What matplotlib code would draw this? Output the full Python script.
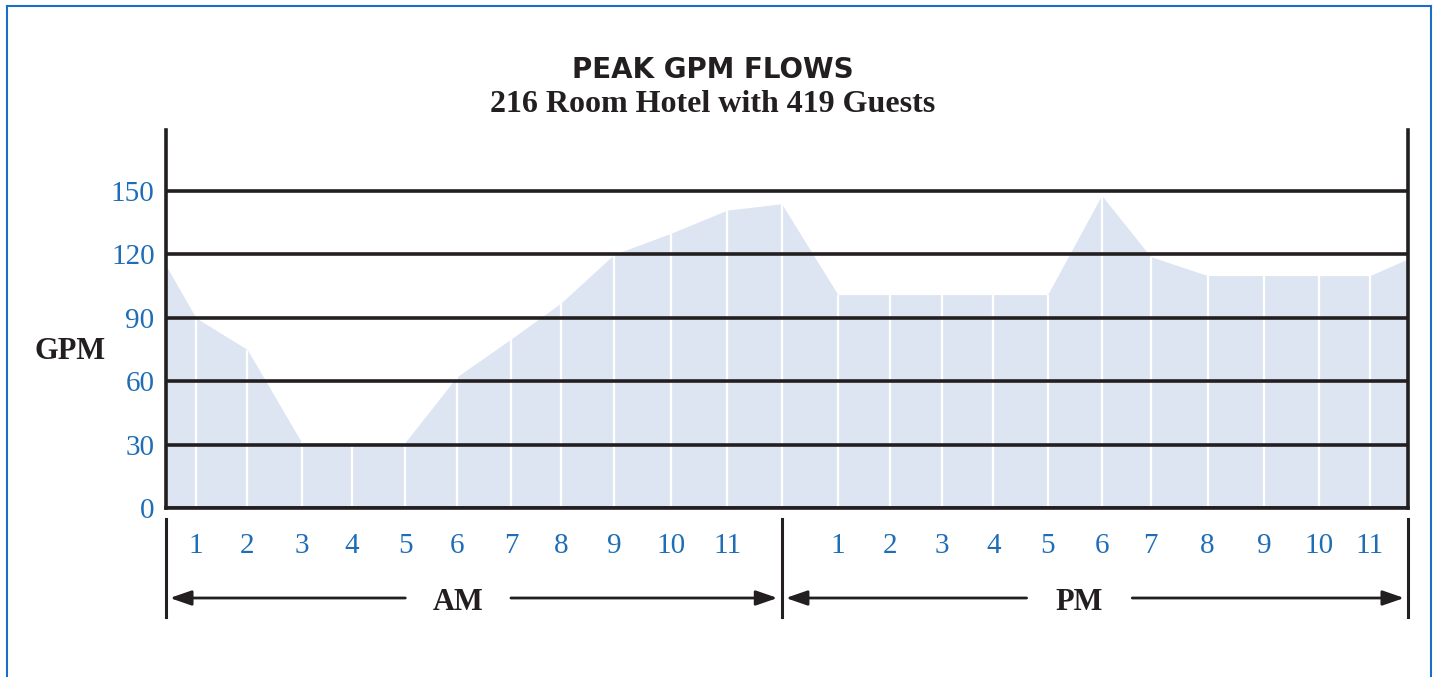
import matplotlib
matplotlib.use("Agg")
import matplotlib.pyplot as plt
from matplotlib.lines import Line2D

# ---- data ----
# hour positions (in hours from midnight) as drawn on the reference (the spacing is slightly irregular)
hour_pos = [0.0, 0.585, 1.576, 2.627, 3.598, 4.622, 5.620, 6.669, 7.634, 8.658, 9.753, 10.846,
            11.896, 12.984, 13.988, 14.992, 15.983, 17.033, 18.077, 19.023, 20.124, 21.217,
            22.267, 23.258, 24.0]
gpm = [115, 90, 75, 31, 31, 31, 62, 80, 97, 120, 130, 141,
       144, 101, 101, 101, 101, 101, 148, 119, 110, 110, 110, 110, 118]
am_labels = ["1", "2", "3", "4", "5", "6", "7", "8", "9", "10", "11"]
pm_labels = ["1", "2", "3", "4", "5", "6", "7", "8", "9", "10", "11"]
y_ticks = [0, 30, 60, 90, 120, 150]
period_labels = ["AM", "PM"]

title = "PEAK GPM FLOWS"
subtitle = "216 Room Hotel with 419 Guests"

W, H = 1439, 677
BLACK = "#231f20"
BLUE = "#1f6db5"
FILL = "#dee5f2"
SERIF = ["Liberation Serif", "DejaVu Serif"]

fig = plt.figure(figsize=(W / 100, H / 100), dpi=100)
fig.patch.set_facecolor("white")

L, R, T, B = 165.7, 1408.3, 130, 508
ax = fig.add_axes([L / W, 1 - B / H, (R - L) / W, (B - T) / H])
ax.set_facecolor("white")

ax.fill_between(hour_pos, 0, gpm, color=FILL, lw=0, zorder=1)
ax.vlines(hour_pos[1:-1], 0, gpm[1:-1], colors="white", lw=1.6, zorder=2)

ax.set_xlim(0, 24)
ax.set_ylim(0, 178.9)
ax.set_yticks(y_ticks)
ax.set_yticklabels([str(v) for v in y_ticks], color=BLUE, fontsize=21, family=SERIF)
ax.set_xticks(hour_pos[1:12] + hour_pos[13:24])
ax.set_xticklabels(am_labels + pm_labels, color=BLUE, fontsize=21, family=SERIF)
ax.tick_params(axis="both", length=0)
ax.tick_params(axis="y", pad=8)
ax.tick_params(axis="x", pad=18)
ax.set_axisbelow(False)
ax.grid(axis="y", color=BLACK, lw=2.6)
ax.grid(axis="x", visible=False)
for s in ["left", "right", "bottom"]:
    ax.spines[s].set_color(BLACK)
    ax.spines[s].set_linewidth(2.6)
ax.spines["top"].set_visible(False)

# Y label
fig.text(70 / W, 1 - 352 / H, "GPM", ha="center", va="center", fontsize=22,
         fontweight="bold", family=SERIF, color=BLACK)

# titles
fig.text(713 / W, 1 - 70 / H, title, ha="center", va="center", fontsize=20,
         fontweight="bold", family=["DejaVu Sans"], color=BLACK)
fig.text(713 / W, 1 - 104 / H, subtitle, ha="center", va="center", fontsize=23,
         fontweight="bold", family=SERIF, color=BLACK)

# AM / PM brackets below the axis
tr = ax.get_xaxis_transform()
y_top, y_bot = (H - 519), (H - 617)
y_arr = H - 598


def fpix(y):
    # convert figure pixel y to axes fraction for the blended transform
    return (y - (H - B)) / (B - T)


for xp in (hour_pos[0], hour_pos[12], hour_pos[24]):
    ax.add_line(Line2D([xp, xp], [fpix(y_top), fpix(y_bot)], transform=tr,
                       color=BLACK, lw=2.2, clip_on=False))

ya = fpix(y_arr)
style = "-|>,head_length=1.3,head_width=0.45"
segs = [(hour_pos[0], hour_pos[12], period_labels[0]), (hour_pos[12], hour_pos[24], period_labels[1])]
for x0, x1, lab in segs:
    xm = (x0 + x1) / 2 - 0.3
    gap = 1.02
    ax.annotate("", xy=(x0 + 0.08, ya), xytext=(xm - gap, ya), xycoords=tr, textcoords=tr,
                arrowprops=dict(arrowstyle=style, color=BLACK, lw=2, shrinkA=0, shrinkB=0),
                annotation_clip=False)
    ax.annotate("", xy=(x1 - 0.08, ya), xytext=(xm + gap, ya), xycoords=tr, textcoords=tr,
                arrowprops=dict(arrowstyle=style, color=BLACK, lw=2, shrinkA=0, shrinkB=0),
                annotation_clip=False)
    ax.text(xm, fpix(H - 602), lab, transform=tr, ha="center", va="center", fontsize=22,
            fontweight="bold", family=SERIF, color=BLACK, clip_on=False)

# blue frame
FR = "#1a6fc4"
fig.add_artist(Line2D([7 / W, 7 / W], [0, 1 - 6 / H], transform=fig.transFigure, color=FR, lw=1.5))
fig.add_artist(Line2D([7 / W, 1431 / W], [1 - 6 / H, 1 - 6 / H], transform=fig.transFigure, color=FR, lw=1.5))
fig.add_artist(Line2D([1431 / W, 1431 / W], [0, 1 - 6 / H], transform=fig.transFigure, color=FR, lw=1.5))

fig.savefig("out.png", dpi=100, facecolor="white")
